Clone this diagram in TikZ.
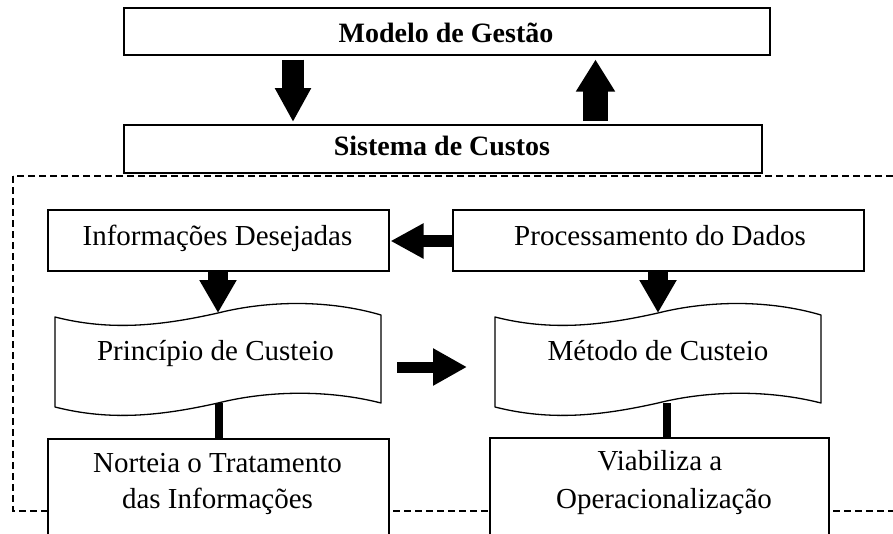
\documentclass[tikz,border=0pt]{standalone}
\usepackage{fontspec}
\setmainfont{Liberation Serif}
\usetikzlibrary{arrows.meta}
\tikzset{
  box/.style={draw, line width=1.5pt, fill=white, inner sep=0pt, anchor=north west},
  lbl/.style={anchor=base, inner sep=0pt, font=\fontsize{29}{29}\selectfont},
  blbl/.style={anchor=base, inner sep=0pt, font=\fontsize{28}{28}\selectfont\bfseries},
  docline/.style={draw, line width=1.3pt, fill=white, line join=round},
  downarr/.style={line width=22pt, -{Triangle[length=34pt,width=34pt]}},
  uparr/.style={line width=25pt, -{Triangle[length=32pt,width=37pt]}},
  smallarr/.style={line width=12pt, -{Triangle[length=33pt,width=33pt]}},
  docarr/.style={line width=20pt, -{Triangle[length=33pt,width=35pt]}},
  midarr/.style={line width=11pt, -{Triangle[length=34pt,width=35pt]}},
  link/.style={line width=8pt},
  frame/.style={draw, line width=1.5pt, dash pattern=on 7pt off 4pt},
  docshape/.pic={
    \draw[docline] (0,4) .. controls (55,18) and (105,13) .. (163,0)
      .. controls (215,-13) and (275,-13) .. (326,2) -- (326,90)
      .. controls (275,77) and (215,77) .. (163,90)
      .. controls (105,103) and (55,108) .. (0,94) -- cycle;
    \coordinate (-top) at (163,0);
    \coordinate (-bot) at (163,90);
    \coordinate (-e) at (326,54);
    \coordinate (-w) at (0,54);
  }
}
\begin{document}
\begin{tikzpicture}[x=1pt,y=-1pt]
\useasboundingbox (0,0) rectangle (893,533);
\clip (0,0) rectangle (893,533);

% dashed frame
\draw[frame] (13,176) rectangle (910,511);

% top boxes
\node[box, minimum width=646pt, minimum height=47pt] (modelo) at (123,7) {};
\node[blbl] (modelot) at (446,42) {Modelo de Gestão};
\node[box, minimum width=638pt, minimum height=48pt] (sistema) at (123,124) {};
\node[blbl] (sistemat) at (442,155) {Sistema de Custos};

\coordinate (a1) at (293,0);
\coordinate (a2) at (595.5,0);
\draw[downarr, shorten <=4pt, shorten >=2pt] (modelo.south -| a1) -- (sistema.north -| a1);
\draw[uparr, shorten <=3pt, shorten >=4pt] (sistema.north -| a2) -- (modelo.south -| a2);

% inner boxes
\node[box, minimum width=341pt, minimum height=61pt] (info) at (47,209) {};
\node[lbl] (infot) at (217.5,245) {Informações Desejadas};
\node[box, minimum width=411pt, minimum height=61pt] (proc) at (452,209) {};
\node[lbl] (proct) at (660,245) {Processamento do Dados};

\coordinate (a3) at (0,241);
\draw[smallarr, shorten >=1pt] (proc.west |- a3) -- (info.east |- a3);

% documents
\pic (L) at (55,313) {docshape};
\pic (R) at (495,313) {docshape};
\node[lbl] (princ) at (215.5,360) {Princípio de Custeio};
\node[lbl] (metodo) at (658,360) {Método de Custeio};

\draw[docarr] (info.south -| L-top) -- (L-top);
\draw[docarr] (proc.south -| R-top) -- (R-top);
\draw[midarr, shorten <=16pt, shorten >=28pt] (L-e) -- (R-w);

% bottom boxes
\node[box, minimum width=341pt, minimum height=130pt] (nort) at (47,438) {};
\node[lbl] (nort1) at (217.5,472) {Norteia o Tratamento};
\node[lbl] (nort2) at (217.5,508) {das Informações};
\node[box, minimum width=339pt, minimum height=130pt] (viab) at (489,437) {};
\node[lbl] (viab1) at (660,470) {Viabiliza a};
\node[lbl] (viab2) at (664,508) {Operacionalização};

\coordinate (c1) at (219,0);
\coordinate (c2) at (667,0);
\draw[link] (L-bot -| c1) -- (nort.north -| c1);
\draw[link] (R-bot -| c2) -- (viab.north -| c2);
\end{tikzpicture}
\end{document}
